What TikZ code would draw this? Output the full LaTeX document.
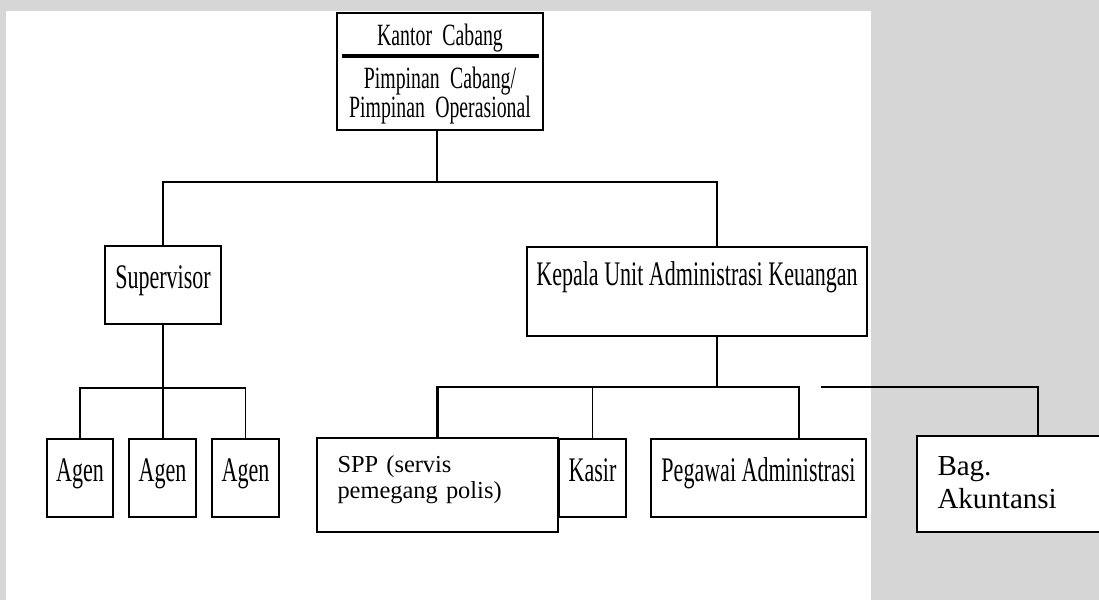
\documentclass[tikz,border=0pt]{standalone}
\usepackage{fontspec}
\setmainfont{Liberation Serif}
\newfontfamily\narrowfont[FakeStretch=0.64]{Liberation Serif}
\usepackage{xcolor}
\usepackage{tikz}
\usetikzlibrary{calc,positioning}
\definecolor{pagegray}{RGB}{214,214,214}
\tikzset{
    orgbox/.style={draw, fill=white, line width=1.1pt, inner sep=0pt, text height=0.85cm, text depth=0.71cm,
        font=\narrowfont\fontsize{19.6}{20}\selectfont},
    notebox/.style={draw, fill=white, line width=1.3pt, inner xsep=0.41cm, inner ysep=0pt, align=left},
    link/.style={line width=0.9pt},
    boldlink/.style={line width=1.4pt}
}

\begin{document}
\begin{tikzpicture}[x=0.02cm, y=-0.02cm]
    \useasboundingbox (0,0) rectangle (1099,600);
    \clip (0,0) rectangle (1099,600);
    \fill[pagegray] (0,0) rectangle (1099,600);
    \fill[white] (6,11) rectangle (871,600);

    \node[orgbox, align=center, text width=4.12cm, text height=0.64cm, text depth=1.7cm,
        font=\narrowfont\fontsize{17.6}{17.07}\selectfont] (kantor) at (440,71.5)
        {Kantor Cabang\\[7.4pt]Pimpinan Cabang/\\Pimpinan Operasional};
    \draw[line width=2.3pt] ($(kantor.north west)+(6,44)$) -- ($(kantor.north east)+(-5,44)$);

    \node[orgbox, minimum width=2.32cm] (super) at (163,285) {Supervisor};
    \node[orgbox, minimum width=6.8cm, text height=0.76cm, text depth=1.02cm] (kepala) at (697,291.5)
        {Kepala Unit Administrasi Keuangan};

    \foreach \i/\cx in {1/80, 2/162.5, 3/245.5}
        \node[orgbox, minimum width=1.33cm] (agen\i) at (\cx,478) {Agen};
    \node[orgbox, minimum width=1.34cm] (kasir) at (592.5,478) {Kasir};
    \node[orgbox, minimum width=4.3cm] (pegawai) at (758.5,478) {Pegawai Administrasi};
    \node[notebox, text width=4.0cm, text height=0.68cm, text depth=1.2cm,
        font=\fontsize{13.9}{14.8}\selectfont] (spp) at (437.5,485) {SPP (servis\\pemegang polis)};
    \node[notebox, text width=4.02cm, text height=0.78cm, text depth=1.14cm,
        font=\fontsize{16.5}{18.8}\selectfont] (bag) at (1038,484) {Bag.\\Akuntansi};

    \coordinate (bus1) at (437,182);
    \draw[link] ([xshift=-0.06cm]kantor.south) -- (bus1);
    \draw[link] (super.north) |- (bus1) -| ([xshift=0.4cm]kepala.north);

    \coordinate (bus2) at (163,388);
    \draw[link] (super.south) -- (super.south |- agen2.north);
    \draw[link] (agen1.north) |- (bus2) -| (agen3.north);

    \coordinate (bus3) at (717,387);
    \draw[link] ([xshift=0.4cm]kepala.south) -- (bus3);
    \draw[link] (kasir.north) |- (bus3) -| ([xshift=0.81cm]pegawai.north);
    \coordinate (sppend) at (655,387);
    \draw[boldlink] (spp.north) |- (sppend);
    \coordinate (bagstart) at (821,387);
    \draw[boldlink] (bagstart) -| (bag.north);
\end{tikzpicture}
\end{document}
